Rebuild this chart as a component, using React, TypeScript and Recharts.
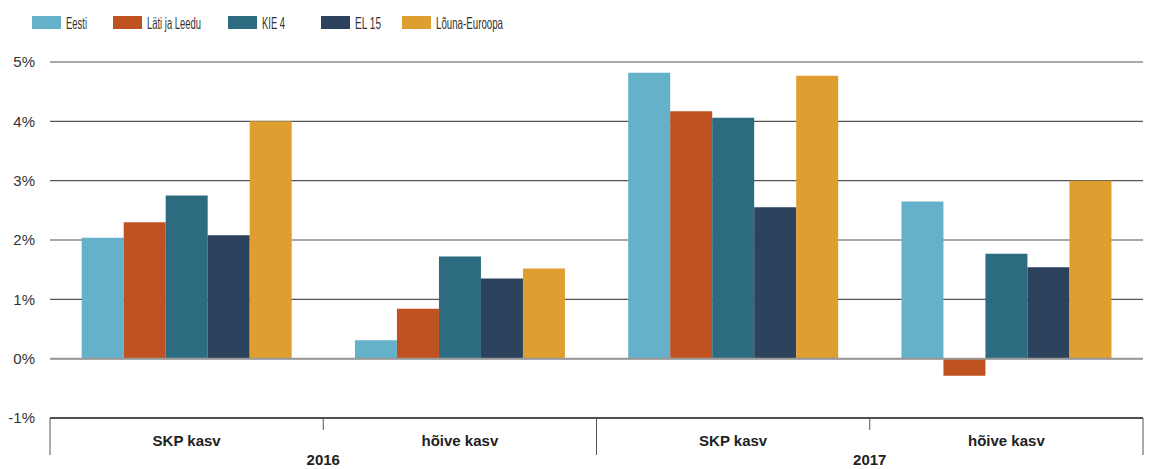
import React from "react";
import {
  BarChart,
  Bar,
  XAxis,
  YAxis,
  CartesianGrid,
  ReferenceLine,
} from "recharts";

const categories = ["SKP kasv", "hõive kasv", "SKP kasv", "hõive kasv"];
const years = ["2016", "2016", "2017", "2017"];
const eesti = [2.04, 0.31, 4.82, 2.65];
const latiJaLeedu = [2.3, 0.84, 4.17, -0.29];
const kie4 = [2.75, 1.72, 4.06, 1.77];
const el15 = [2.08, 1.35, 2.55, 1.54];
const lounaEuroopa = [4.0, 1.52, 4.77, 3.0];
const yTicks = [-1, 0, 1, 2, 3, 4, 5];

const seriesNames = ["Eesti", "Läti ja Leedu", "KIE 4", "EL 15", "Lõuna-Euroopa"];
const seriesKeys = ["eesti", "lati", "kie4", "el15", "louna"];
const seriesColors = ["#65B1C9", "#C05221", "#2D6B80", "#2D425C", "#DF9E30"];

const data = categories.map((c, i) => ({
  cat: c,
  year: years[i],
  eesti: eesti[i],
  lati: latiJaLeedu[i],
  kie4: kie4[i],
  el15: el15[i],
  louna: lounaEuroopa[i],
}));

const W = 1149;
const H = 469;
const LEFT = 50;
const RIGHT = 6;
const BAND = (W - LEFT - RIGHT) / categories.length;

// legend layout (style)
const legendX = [32, 113, 228, 321, 402];
const legendTextLen = [21, 54, 23, 26, 67];

const FONT = "'Liberation Sans', Arial, Helvetica, sans-serif";

const Legend = () => (
  <svg width={W} height={40} style={{ position: "absolute", left: 0, top: 0 }}>
    {seriesNames.map((n, i) => (
      <g key={n}>
        <rect x={legendX[i]} y={16} width={29} height={13} fill={seriesColors[i]} />
        <text
          x={legendX[i] + 34}
          y={28.5}
          fontFamily={FONT}
          fontSize={16.5}
          fill="#333"
          textLength={legendTextLen[i]}
          lengthAdjust="spacingAndGlyphs"
        >
          {n}
        </text>
      </g>
    ))}
  </svg>
);

const XTick = (props: any) => {
  const { x, y, payload, index } = props;
  const left = x - BAND / 2;
  const right = x + BAND / 2;
  const isLast = index === categories.length - 1;
  return (
    <g>
      <line
        x1={left}
        x2={left}
        y1={y}
        y2={index % 2 === 0 ? y + 37 : y + 12}
        stroke="#555"
        strokeWidth={1}
      />
      {isLast && (
        <line x1={right} x2={right} y1={y} y2={y + 37} stroke="#555" strokeWidth={1} />
      )}
      <text
        x={x}
        y={y + 28}
        textAnchor="middle"
        fontFamily={FONT}
        fontWeight="bold"
        fontSize={15}
        fill="#222"
      >
        {payload.value}
      </text>
      {index % 2 === 0 && (
        <text
          x={right}
          y={y + 47}
          textAnchor="middle"
          fontFamily={FONT}
          fontWeight="bold"
          fontSize={15}
          fill="#222"
        >
          {years[index]}
        </text>
      )}
    </g>
  );
};

export default function App() {
  return (
    <div style={{ position: "absolute", left: 0, top: 0, width: W, height: H, background: "#fff" }}>
      <Legend />
      <BarChart
        width={W}
        height={H}
        data={data}
        margin={{ top: 62, right: RIGHT, bottom: 21, left: 0 }}
        barCategoryGap="11.6%"
        barGap={0}
      >
        <CartesianGrid horizontal vertical={false} stroke="#555" strokeWidth={1.2} />
        <ReferenceLine y={0} stroke="#999" strokeWidth={2} />
        <XAxis
          dataKey="cat"
          interval={0}
          height={30}
          tickLine={false}
          tickSize={0}
          tickMargin={0}
          axisLine={{ stroke: "#333", strokeWidth: 1.5 }}
          tick={<XTick />}
        />
        <YAxis
          width={LEFT}
          domain={[-1, 5]}
          ticks={yTicks}
          axisLine={false}
          tickLine={false}
          tickSize={0}
          tickMargin={15}
          tickFormatter={(v: number) => `${v}%`}
          tick={{ fontFamily: FONT, fontSize: 15, fill: "#333" }}
        />
        {seriesKeys.map((k, i) => (
          <Bar key={k} dataKey={k} fill={seriesColors[i]} isAnimationActive={false} />
        ))}
      </BarChart>
    </div>
  );
}
